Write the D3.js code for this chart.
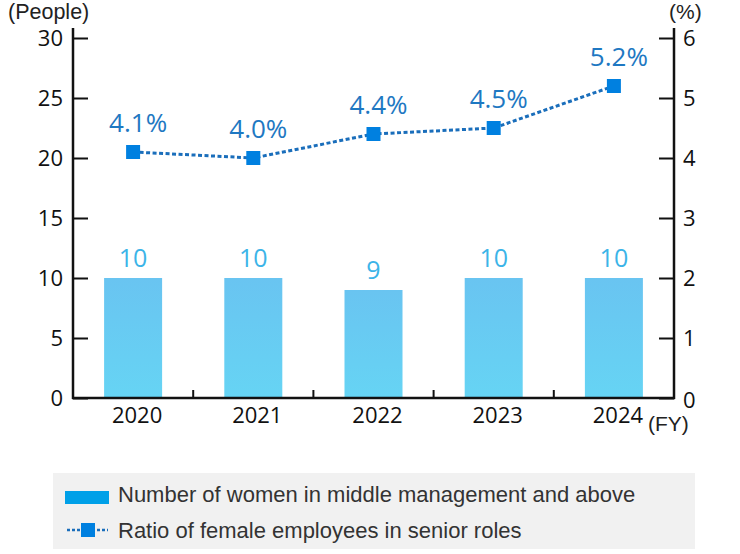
<!DOCTYPE html>
<html><head><meta charset="utf-8">
<script src="https://cdn.jsdelivr.net/npm/d3@7"></script>
<style>
html,body{margin:0;padding:0;background:#fff;}
svg{display:block;}
text{font-family:"Open Sans","Noto Sans",sans-serif;}
text.hv{font-family:"Liberation Sans",Arial,sans-serif;}
</style></head><body>
<svg id="c" width="740" height="554"></svg>
<script>
const years = ["2020","2021","2022","2023","2024"];
const womenCount = [10,10,9,10,10];
const ratioPct = [4.1,4.0,4.4,4.5,5.2];
const leftTicks = [0,5,10,15,20,25,30];
const rightTicks = [0,1,2,3,4,5,6];
const legendLabels = ["Number of women in middle management and above","Ratio of female employees in senior roles"];

const svg = d3.select("#c");
const L = 73, R = 674, T = 38, B = 398;
const x = d3.scaleBand().domain(years).range([L,R]).paddingInner(0).paddingOuter(0);
const yL = d3.scaleLinear().domain([0,30]).range([B,T]);
const yR = d3.scaleLinear().domain([0,6]).range([B,T]);

const defs = svg.append("defs");
const g = defs.append("linearGradient").attr("id","bg").attr("x1",0).attr("y1",0).attr("x2",0).attr("y2",1);
g.append("stop").attr("offset","0").attr("stop-color","#69C4F1");
g.append("stop").attr("offset","1").attr("stop-color","#66D4F4");

const barW = 58;
svg.selectAll("rect.bar").data(years).enter().append("rect")
  .attr("x", d=> x(d)+x.bandwidth()/2-barW/2)
  .attr("y", (d,i)=> yL(womenCount[i]))
  .attr("width", barW)
  .attr("height", (d,i)=> B - yL(womenCount[i]))
  .attr("fill","url(#bg)");

svg.selectAll("text.bl").data(years).enter().append("text")
  .attr("x", d=> x(d)+x.bandwidth()/2)
  .attr("y", (d,i)=> yL(womenCount[i]) - 11)
  .attr("text-anchor","middle").attr("font-size",25).attr("fill","#3CB4E8")
  .text((d,i)=> womenCount[i]);

// axes
const axL = svg.append("g").attr("transform",`translate(${L},0)`)
  .call(d3.axisRight(yL).tickValues(leftTicks).tickSize(15).tickFormat(""));
axL.selectAll("line").attr("stroke","#111").attr("stroke-width",2);
axL.select(".domain").remove();
svg.append("line").attr("x1",L).attr("x2",L).attr("y1",28).attr("y2",B+1).attr("stroke","#111").attr("stroke-width",2.5);
svg.selectAll("text.lt").data(leftTicks).enter().append("text")
  .attr("x",63).attr("y",d=>yL(d)+8).attr("text-anchor","end").attr("font-size",22).attr("fill","#111").text(d=>d);

const axR = svg.append("g").attr("transform",`translate(${R},0)`)
  .call(d3.axisLeft(yR).tickValues(rightTicks).tickSize(15).tickFormat(""));
axR.selectAll("line").attr("stroke","#111").attr("stroke-width",2);
axR.select(".domain").remove();
svg.append("line").attr("x1",R).attr("x2",R).attr("y1",28).attr("y2",B+1).attr("stroke","#111").attr("stroke-width",2.5);
svg.selectAll("text.rt").data(rightTicks).enter().append("text")
  .attr("x",683).attr("y",d=>yR(d)+ (d===0?10:8)).attr("text-anchor","start").attr("font-size",22).attr("fill","#111").text(d=>d);

const axB = svg.append("g").attr("transform",`translate(0,${B})`)
  .call(d3.axisTop(x).tickSize(8).tickFormat(""));
axB.select(".domain").remove();
axB.selectAll("line").attr("stroke","#111").attr("stroke-width",2).attr("transform",`translate(${x.bandwidth()/2},0)`);
svg.append("line").attr("x1",L-1).attr("x2",R+1).attr("y1",B).attr("y2",B).attr("stroke","#111").attr("stroke-width",2.5);
svg.selectAll("text.xl").data(years).enter().append("text")
  .attr("x", d=> x(d)+x.bandwidth()/2+4).attr("y",423)
  .attr("text-anchor","middle").attr("font-size",22).attr("fill","#111").text(d=>d);

svg.append("text").attr("class","hv").attr("x",8).attr("y",19).attr("font-size",21.5).attr("fill","#222").text("(People)");
svg.append("text").attr("class","hv").attr("x",669).attr("y",19).attr("font-size",21).attr("fill","#222").text("(%)");
svg.append("text").attr("class","hv").attr("x",648).attr("y",431).attr("font-size",21).attr("fill","#222").text("(FY)");

// line
const line = d3.line().x(d=> x(d)+x.bandwidth()/2).y((d,i)=> yR(ratioPct[i]));
svg.append("path").datum(years).attr("d",line).attr("fill","none")
  .attr("stroke","#1A6EBB").attr("stroke-width",3).attr("stroke-dasharray","4,2.5");
const ms = 14;
svg.selectAll("rect.m").data(years).enter().append("rect")
  .attr("x", d=> x(d)+x.bandwidth()/2-ms/2)
  .attr("y", (d,i)=> yR(ratioPct[i])-ms/2)
  .attr("width",ms).attr("height",ms).attr("fill","#0080E0");
svg.selectAll("text.pl").data(years).enter().append("text")
  .attr("x", d=> x(d)+x.bandwidth()/2+5)
  .attr("y", (d,i)=> yR(ratioPct[i]) - 20)
  .attr("text-anchor","middle").attr("font-size",26).attr("fill","#1E78C2")
  .text((d,i)=> ratioPct[i].toFixed(1)+"%");

// legend
svg.append("rect").attr("x",53).attr("y",473).attr("width",642).attr("height",76).attr("fill","#F1F1F1");
svg.append("rect").attr("x",65).attr("y",491).attr("width",44).attr("height",13).attr("fill","#00A0E8");
svg.append("line").attr("x1",67).attr("x2",108).attr("y1",530).attr("y2",530)
  .attr("stroke","#1A6EBB").attr("stroke-width",2.5).attr("stroke-dasharray","3,2");
svg.append("rect").attr("x",81).attr("y",523).attr("width",14).attr("height",14).attr("fill","#0080E0");
svg.selectAll("text.lg").data(legendLabels).enter().append("text")
  .attr("class","hv").attr("x",118).attr("y",(d,i)=> 502 + i*36)
  .attr("font-size",22).attr("fill","#333").text(d=>d);
</script>
</body></html>
